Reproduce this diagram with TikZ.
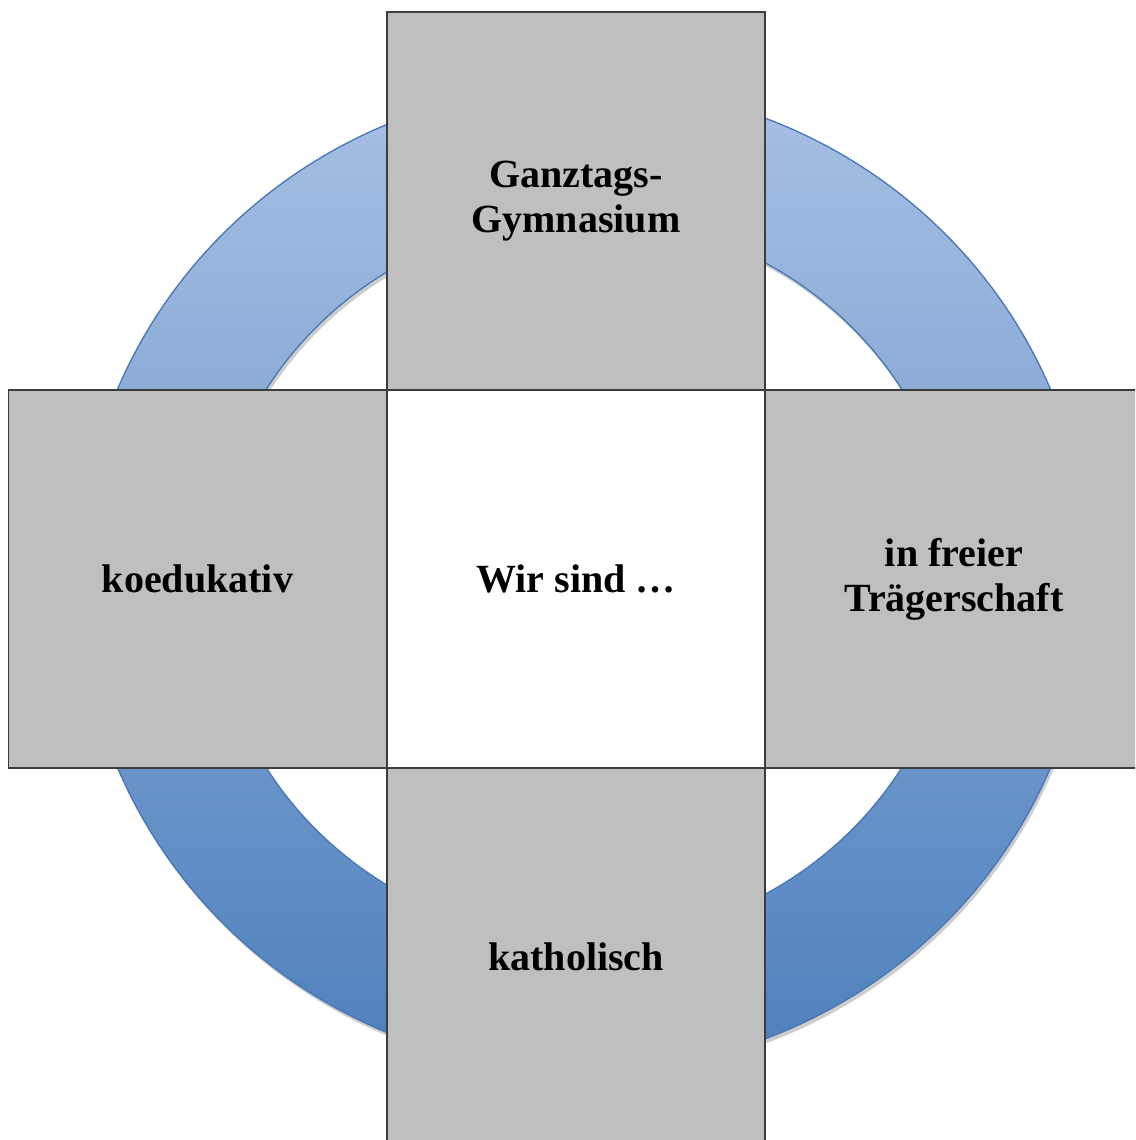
\documentclass[tikz,border=0pt]{standalone}
\usepackage{fontspec}
\setmainfont{Liberation Serif}
\usepackage{xcolor}
\definecolor{ringtop}{RGB}{168,192,227}
\definecolor{ringbot}{RGB}{78,128,189}
\definecolor{ringedge}{RGB}{70,118,182}
\definecolor{boxgray}{RGB}{191,191,191}
\definecolor{boxline}{RGB}{60,60,60}
\definecolor{shadowgray}{RGB}{205,205,205}

\begin{document}
\begin{tikzpicture}[
  x=1pt, y=-1pt,
  every box/.style={draw=boxline, line width=1.5pt, minimum width=378pt,
    minimum height=378pt, inner sep=0pt, align=center,
    font=\fontsize{40}{45}\selectfont\bfseries},
  side box/.style={every box, fill=boxgray},
  mid box/.style={every box, fill=white},
]
\useasboundingbox (0,0) rectangle (1135,1140);
\clip (0,0) rectangle (1135,1140);

% ring behind the boxes
\coordinate (ringc) at (584,578.5);
\fill[shadowgray, even odd rule] ([shift={(2,4)}]ringc) ellipse [x radius=505pt, y radius=493pt]
  ([shift={(2,4)}]ringc) ellipse [x radius=373pt, y radius=361pt];
\shade[top color=ringtop, bottom color=ringbot, even odd rule]
  (ringc) ellipse [x radius=505pt, y radius=493pt]
  (ringc) ellipse [x radius=373pt, y radius=361pt];
\draw[ringedge, line width=1.3pt] (ringc) ellipse [x radius=505pt, y radius=493pt]
  (ringc) ellipse [x radius=373pt, y radius=361pt];

% the five squares
\node[mid box] (wir) at (576,579) {Wir sind …};
\foreach \nm/\pos/\txt in {
  ganztag/{(576,201)}/{Ganztags-\\Gymnasium},
  koedu/{(197.5,579)}/{koedukativ},
  traeger/{(954,579)}/{in freier\\Trägerschaft},
  kath/{(576,957)}/{katholisch}}
{
  \node[side box] (\nm) at \pos {\txt};
}
\end{tikzpicture}
\end{document}
